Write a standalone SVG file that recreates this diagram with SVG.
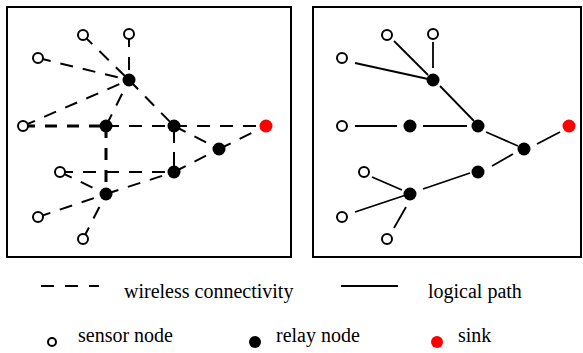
<svg xmlns="http://www.w3.org/2000/svg" width="583" height="353" viewBox="0 0 583 353">
<style>
.frame{fill:none;stroke:#000;stroke-width:2}
.s{fill:#fff;stroke:#000;stroke-width:2}
.r{fill:#000}
.k{fill:#f00}
.d{stroke:#000;stroke-width:2;stroke-dasharray:13 10;fill:none}
.dt{stroke:#000;stroke-width:3;stroke-dasharray:12 10;fill:none}
.l{stroke:#000;stroke-width:1.8;fill:none}
.t{font-family:"Liberation Serif","Times New Roman",serif;font-size:20px;fill:#000}
</style>
<rect class="frame" x="7" y="7" width="284" height="250"/>
<rect class="frame" x="313" y="7" width="268" height="250"/>
<g id="connectors">
<g id="left-links">
<line class="d" x1="83" y1="35" x2="129" y2="80"/>
<line class="d" x1="129" y1="34" x2="129" y2="80"/>
<line class="d" x1="38" y1="58" x2="129" y2="80"/>
<line class="d" x1="23" y1="126" x2="129" y2="80"/>
<line class="d" x1="106" y1="126" x2="129" y2="80"/>
<line class="d" x1="129" y1="80" x2="174" y2="126"/>
<line class="dt" x1="23" y1="126" x2="106" y2="126"/>
<line class="d" x1="106" y1="126" x2="174" y2="126"/>
<line class="d" x1="174" y1="126" x2="266" y2="126"/>
<line class="d" x1="174" y1="126" x2="219" y2="149"/>
<line class="d" x1="219" y1="149" x2="266" y2="126"/>
<line class="dt" x1="106" y1="126" x2="106" y2="194"/>
<line class="d" x1="174" y1="126" x2="174" y2="172" style="stroke-dasharray:17 9"/>
<line class="d" x1="60" y1="172" x2="174" y2="172"/>
<line class="d" x1="60" y1="172" x2="106" y2="194"/>
<line class="d" x1="106" y1="194" x2="174" y2="172"/>
<line class="d" x1="174" y1="172" x2="219" y2="149"/>
<line class="d" x1="38" y1="217" x2="106" y2="194"/>
<line class="d" x1="83" y1="239" x2="106" y2="194"/>
</g>
<g id="right-links">
<line class="l" x1="394" y1="41" x2="428" y2="75"/>
<line class="l" x1="433" y1="42" x2="433" y2="68"/>
<line class="l" x1="355" y1="63" x2="428" y2="79"/>
<line class="l" x1="440" y1="86" x2="474" y2="121"/>
<line class="l" x1="355" y1="126" x2="397" y2="126"/>
<line class="l" x1="423" y1="126" x2="467" y2="126"/>
<line class="l" x1="486" y1="132" x2="518" y2="146"/>
<line class="l" x1="537" y1="144" x2="560" y2="132"/>
<line class="l" x1="492" y1="166" x2="513" y2="154"/>
<line class="l" x1="423" y1="189" x2="470" y2="173"/>
<line class="l" x1="372" y1="177" x2="402" y2="190"/>
<line class="l" x1="355" y1="212" x2="406" y2="195"/>
<line class="l" x1="394" y1="228" x2="406" y2="207"/>
</g>
<g id="legend-lines">
<line class="d" x1="41" y1="286" x2="99" y2="286" style="stroke-dasharray:13 11"/>
<line class="l" x1="341" y1="286" x2="398" y2="286" style="stroke-width:2"/>
</g>
</g>
<g id="left-nodes">
<g id="L-s1"><circle class="s" cx="83" cy="35" r="5"/></g>
<g id="L-s2"><circle class="s" cx="129" cy="34" r="5"/></g>
<g id="L-s3"><circle class="s" cx="38" cy="58" r="5"/></g>
<g id="L-s4"><circle class="s" cx="23" cy="126" r="5"/></g>
<g id="L-s5"><circle class="s" cx="60" cy="172" r="5"/></g>
<g id="L-s6"><circle class="s" cx="38" cy="217" r="5"/></g>
<g id="L-s7"><circle class="s" cx="83" cy="239" r="5"/></g>
<g id="L-r1"><circle class="r" cx="129" cy="80" r="6.5"/></g>
<g id="L-r2"><circle class="r" cx="106" cy="126" r="6.5"/></g>
<g id="L-r3"><circle class="r" cx="174" cy="126" r="6.5"/></g>
<g id="L-r4"><circle class="r" cx="219" cy="149" r="6.5"/></g>
<g id="L-r5"><circle class="r" cx="174" cy="172" r="6.5"/></g>
<g id="L-r6"><circle class="r" cx="106" cy="194" r="6.5"/></g>
<g id="L-sink"><circle class="k" cx="266" cy="126" r="6.5"/></g>
</g>
<g id="right-nodes">
<g id="R-s1"><circle class="s" cx="387" cy="35" r="5"/></g>
<g id="R-s2"><circle class="s" cx="433" cy="34" r="5"/></g>
<g id="R-s3"><circle class="s" cx="342" cy="58" r="5"/></g>
<g id="R-s4"><circle class="s" cx="342" cy="126" r="5"/></g>
<g id="R-s5"><circle class="s" cx="364" cy="172" r="5"/></g>
<g id="R-s6"><circle class="s" cx="342" cy="217" r="5"/></g>
<g id="R-s7"><circle class="s" cx="387" cy="239" r="5"/></g>
<g id="R-r1"><circle class="r" cx="433" cy="80" r="6.5"/></g>
<g id="R-r2"><circle class="r" cx="410" cy="126" r="6.5"/></g>
<g id="R-r3"><circle class="r" cx="478" cy="126" r="6.5"/></g>
<g id="R-r4"><circle class="r" cx="524" cy="149" r="6.5"/></g>
<g id="R-r5"><circle class="r" cx="478" cy="172" r="6.5"/></g>
<g id="R-r6"><circle class="r" cx="410" cy="194" r="6.5"/></g>
<g id="R-sink"><circle class="k" cx="569" cy="126" r="6.5"/></g>
</g>
<g id="legend">
<text class="t" x="124" y="298">wireless connectivity</text>
<text class="t" x="428" y="298">logical path</text>
<g id="leg-sensor"><circle class="s" cx="52" cy="342" r="4"/></g>
<text class="t" x="78" y="342">sensor node</text>
<g id="leg-relay"><circle class="r" cx="255" cy="342" r="6"/></g>
<text class="t" x="276" y="342">relay node</text>
<g id="leg-sink"><circle class="k" cx="437" cy="342" r="6"/></g>
<text class="t" x="458" y="342">sink</text>
</g>
</svg>
